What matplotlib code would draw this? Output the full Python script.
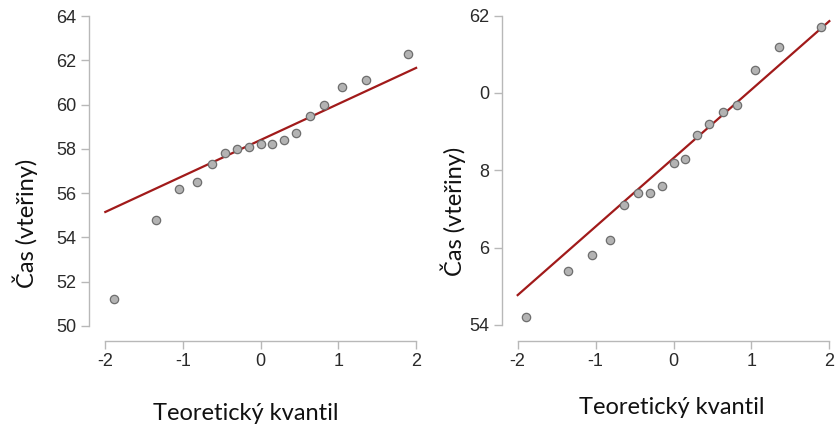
import matplotlib
matplotlib.use('Agg')
import matplotlib.pyplot as plt

plt.rcParams['font.family'] = ['Liberation Sans', 'DejaVu Sans']

# theoretical normal quantiles (n = 17)
kvantily = [-1.89, -1.35, -1.05, -0.82, -0.63, -0.46, -0.30, -0.15, 0.0,
            0.15, 0.30, 0.46, 0.63, 0.82, 1.05, 1.35, 1.89]

# left panel
cas_a = [51.2, 54.8, 56.2, 56.5, 57.3, 57.8, 58.0, 58.1, 58.2,
         58.2, 58.4, 58.7, 59.5, 60.0, 60.8, 61.1, 62.3]
line_a_x = [-2, 2]
line_a_y = [55.15, 61.66]
yticks_a = [50, 52, 54, 56, 58, 60, 62, 64]
yticklabels_a = ['50', '52', '54', '56', '58', '60', '62', '64']

# right panel
cas_b = [54.2, 55.4, 55.8, 56.2, 57.1, 57.4, 57.4, 57.6, 58.2,
         58.3, 58.9, 59.2, 59.5, 59.7, 60.6, 61.2, 61.7]
line_b_x = [-2, 2]
line_b_y = [54.77, 61.86]
yticks_b = [54, 56, 58, 60, 62]
yticklabels_b = ['54', '6', '8', '0', '62']

xticks = [-2, -1, 0, 1, 2]
xticklabels = ['-2', '-1', '0', '1', '2']

W, H = 835, 430
fig = plt.figure(figsize=(W / 100, H / 100), dpi=100)

spine_col = '#b8b8b8'
tick_col = '#2a2a2a'
red = '#a11a1a'


def panel(rect, xlim, ylim, y, lx, ly, yt, ytl):
    ax = fig.add_axes(rect)
    ax.plot(lx, ly, color=red, lw=1.6, zorder=2)
    ax.plot(kvantily, y, 'o', ms=6, mfc='#b3b3b3', mec='#6e6e6e', mew=0.9, zorder=3)
    ax.set_xlim(*xlim)
    ax.set_ylim(*ylim)
    for s in ['top', 'right']:
        ax.spines[s].set_visible(False)
    for s in ['left', 'bottom']:
        ax.spines[s].set_color(spine_col)
        ax.spines[s].set_linewidth(1.0)
    ax.spines['left'].set_bounds(yt[0], yt[-1])
    ax.spines['bottom'].set_bounds(xticks[0], xticks[-1])
    ax.set_xticks(xticks)
    ax.set_xticklabels(xticklabels)
    ax.set_yticks(yt)
    ax.set_yticklabels(ytl)
    ax.tick_params(length=6, width=1.0, color=spine_col, labelcolor=tick_col,
                   labelsize=13, pad=3)
    ax.patch.set_alpha(0)
    return ax


panel([89 / W, 89 / H, 331 / W, 326 / H], (-2.21, 2.05), (49.32, 64.05),
      cas_a, line_a_x, line_a_y, yticks_a, yticklabels_a)
panel([501.7 / W, 89.3 / H, 331.3 / W, 326.7 / H], (-2.205, 2.047), (53.59, 62.044),
      cas_b, line_b_x, line_b_y, yticks_b, yticklabels_b)

lab = dict(family='Lato', fontsize=17, color='#111111')
fig.text(246 / W, 1 - 413 / H, 'Teoretický kvantil', ha='center', va='center', **lab)
fig.text(672 / W, 1 - 407 / H, 'Teoretický kvantil', ha='center', va='center', **lab)
fig.text(25 / W, 1 - 223 / H, 'Čas (vteřiny)', ha='center', va='center', rotation=90, **lab)
fig.text(453 / W, 1 - 211 / H, 'Čas (vteřiny)', ha='center', va='center', rotation=90, **lab)

fig.savefig('out.png', dpi=100, facecolor='white')
